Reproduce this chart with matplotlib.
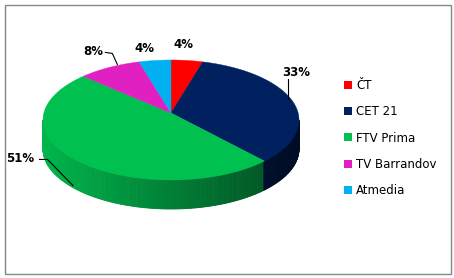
import numpy as np
import matplotlib.pyplot as plt
from matplotlib.patches import Polygon, Rectangle, Patch
from matplotlib.colors import to_rgb

# market share of TV ad sales
labels = ["ČT", "CET 21", "FTV Prima", "TV Barrandov", "Atmedia"]
shares = [4, 33, 51, 8, 4]
pct_labels = ["4%", "33%", "51%", "8%", "4%"]
colors = ["#ff0000", "#002060", "#00c050", "#e020c0", "#00b0f0"]

W, H = 454, 278
fig = plt.figure(figsize=(W / 100, H / 100), dpi=100)
ax = fig.add_axes([0, 0, 1, 1])
ax.set_xlim(0, W)
ax.set_ylim(H, 0)
ax.axis("off")

# ellipse geometry of the tilted pie (pixel units)
cx, cy, rx, ry, depth = 171, 120, 128, 60, 29
apex = (171, 113)


def rim(theta_deg, drop=0):
    t = np.radians(theta_deg)
    return cx + rx * np.cos(t), cy - ry * np.sin(t) + drop


total = sum(shares)
edges = 90 - 360 * np.cumsum([0] + shares) / total  # clockwise from 12 o'clock
mids = (edges[:-1] + edges[1:]) / 2

# side wall (front half only), shaded left -> right
steps = np.linspace(180, 360, 241)
for t0, t1 in zip(steps[:-1], steps[1:]):
    tm = (t0 + t1) / 2
    i = next(k for k in range(len(shares))
             if (edges[k] - tm) % 360 < edges[k] - edges[k + 1])
    x0, y0 = rim(t0)
    x1, y1 = rim(t1)
    shade = 0.95 - 0.57 * ((x0 + x1) / 2 - (cx - rx)) / (2 * rx)
    c = np.clip(np.array(to_rgb(colors[i])) * shade, 0, 1)
    ax.add_patch(Polygon([(x0, y0), (x1, y1), (x1, y1 + depth), (x0, y0 + depth)],
                         closed=True, fc=c, ec=c, lw=0.6))

# top face
for i in range(len(shares)):
    th = np.linspace(edges[i], edges[i + 1], 120)
    pts = [apex] + [rim(t) for t in th]
    ax.add_patch(Polygon(pts, closed=True, fc=colors[i], ec=colors[i], lw=0.3))

# data labels: offset of label centre from rim point on the top face
label_off = [(-4, -16), (2, -31), (-60, -4), (-16, -16), (-11, -12)]
for i, (dx, dy) in enumerate(label_off):
    px, py = rim(mids[i])
    lx, ly = px + dx, py + dy
    ax.text(lx, ly, pct_labels[i], ha="center", va="center",
            fontsize=8.5, fontweight="bold", color="black")
    if i == 1:
        ax.plot([px - 6, px - 6], [ly + 7, py - 4], color="black", lw=0.8)
    elif i == 3:
        ax.plot([lx + 12, lx + 19, px + 8], [ly + 1, ly + 2, py - 3], color="black", lw=0.8)
    elif i == 2:
        ex, ey = rim(220, depth - 2)
        ax.plot([lx + 19, lx + 27, ex], [ly + 1, ly + 1, ey], color="black", lw=0.8)

handles = [Patch(fc=c, ec="none", label=l) for c, l in zip(colors, labels)]
ax.legend(handles=handles, loc="center left", bbox_to_anchor=(344 / W, 1 - 138 / H),
          frameon=False, fontsize=8.5, handlelength=0.65, handleheight=0.65,
          handletextpad=0.4, labelspacing=1.12, borderpad=0, borderaxespad=0)

# chart border
ax.add_patch(Rectangle((4.5, 4.5), 446, 269, fill=False, ec="#868686", lw=1))

fig.savefig("out.png", dpi=100)
